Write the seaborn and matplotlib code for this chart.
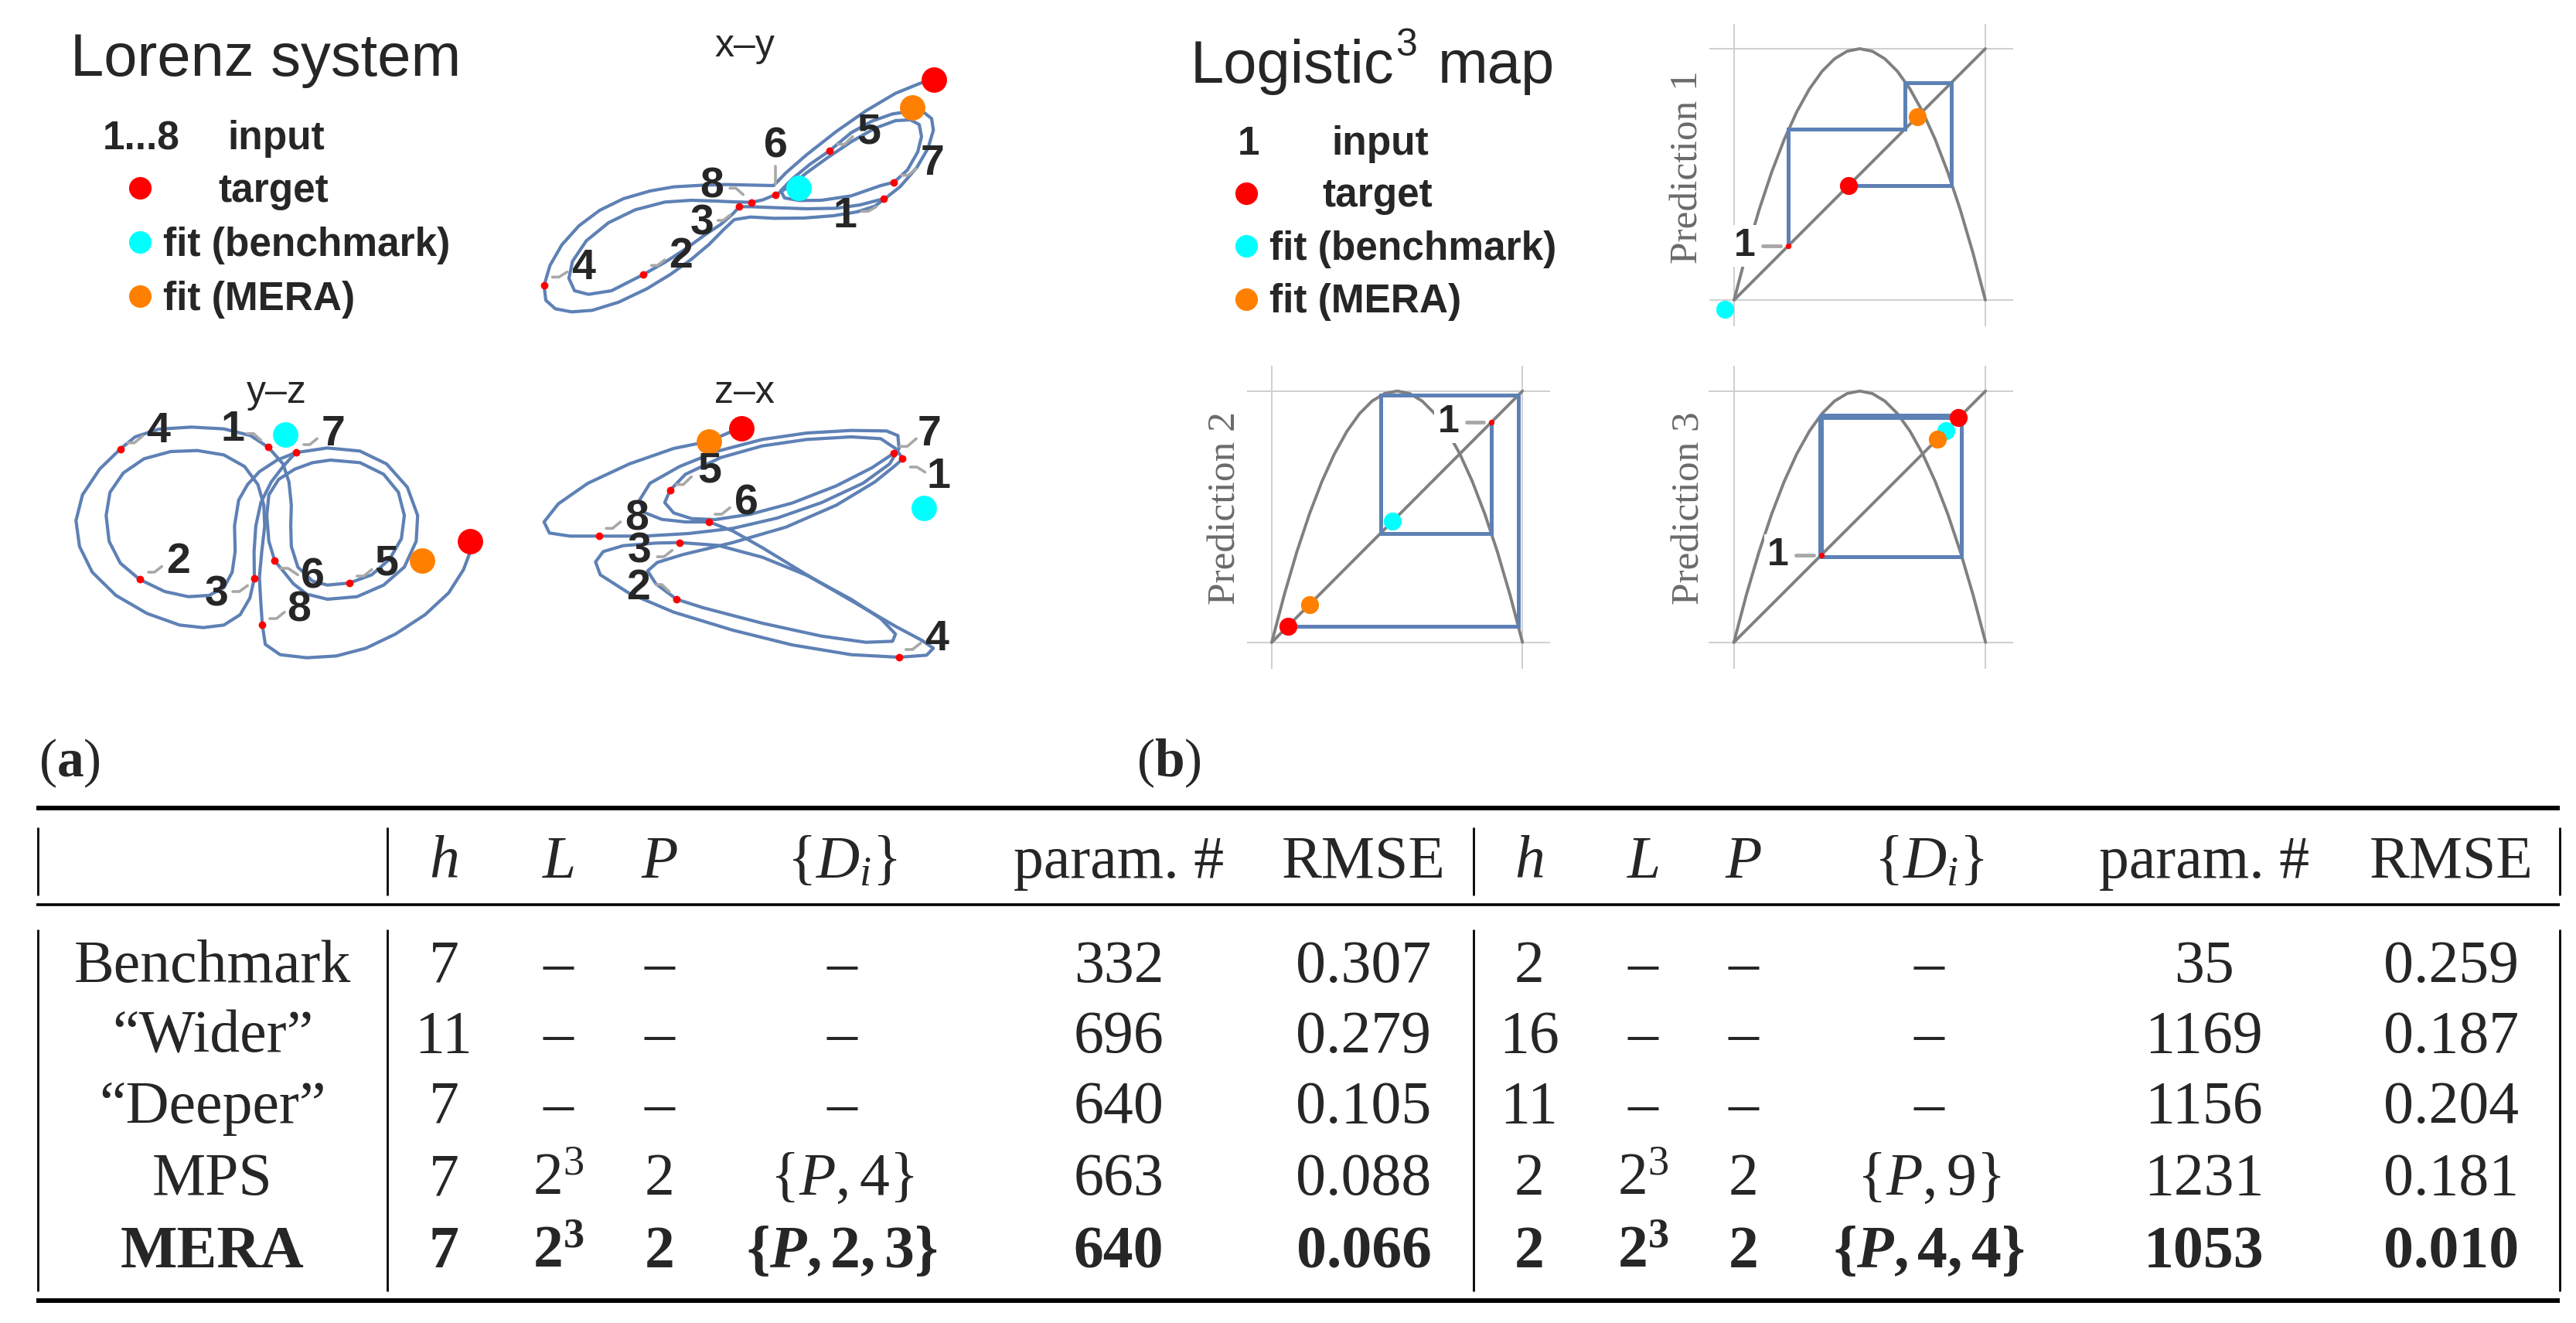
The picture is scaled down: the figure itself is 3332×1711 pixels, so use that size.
import numpy as np
import matplotlib
matplotlib.use("Agg")
import matplotlib.pyplot as plt
import seaborn as sns

sns.set_theme(style="white")
plt.rcParams['font.family'] = ['Liberation Sans', 'DejaVu Sans']
plt.rcParams['mathtext.fontset'] = 'custom'
plt.rcParams['mathtext.rm'] = 'Liberation Serif'
plt.rcParams['mathtext.it'] = 'Liberation Serif:italic'
plt.rcParams['mathtext.bf'] = 'Liberation Serif:bold'
try:
    plt.rcParams['mathtext.bfit'] = 'Liberation Serif:bold:italic'
except KeyError:
    pass

# ---------------- data: Lorenz projections ----------------
xy_strand_a = [(1340,140),(1250,182),(1150,250),(1050,330),(950,420),(880,490),(838,540),(760,538),(680,536),
               (590,539),(500,545),(420,561),(330,591),(250,636),(180,696),(122,770),(82,850),(62,928),(68,985),
               (100,1018),(155,1030),(225,1024),(315,992),(410,940),(490,884),(560,826),(620,768),(668,712),
               (705,672),(760,662),(840,667),(940,666),(1040,657),(1120,642),(1180,620),(1215,590),(1265,545),
               (1322,470),(1360,395),(1378,325),(1372,280),(1348,258),(1300,252),(1240,262),(1170,290),(1100,335),
               (1027,405),(960,458),(900,515),(862,560),(875,588),(925,598),(1000,597),(1100,580),(1200,540),
               (1245,527),(1290,480),(1325,410),(1338,350),(1330,303),(1300,285),(1250,288),(1180,318),(1100,370),
               (1020,432),(950,490),(890,545),(845,575)]
xy_strand_b = [(845,575),(800,596),(762,605),(700,603),(640,600),(560,597),(470,604),(370,634),(280,684),
               (205,754),(158,834),(146,900),(165,948),(212,962),(290,948),(398,885),(470,838),(540,786),
               (610,728),(660,690),(700,650),(722,622),(760,622),(850,626),(950,630),(1050,628),(1130,615),
               (1180,600),(1215,590)]
xy_inputs = [(1210,590),(398,885),(722,622),(62,928),(1027,405),(845,575),(1245,527),(762,605)]
xy_label_pos = [(1080,660),(525,815),(595,688),(195,862),(1160,335),(845,388),(1375,455),(630,545)]
xy_leaders = [((1135,640),(1185,622)),((425,850),(470,828)),((650,675),(690,655)),((90,895),(140,875)),
              ((1055,380),(1105,350)),((845,465),(845,535)),((1270,500),(1320,475)),((690,550),(735,575))]
xy_target, xy_mera, xy_bench = (1380,128), (1307,237), (922,550)

yz_strand_a = [(750,295),(690,250),(600,224),(490,217),(380,225),(300,255),(250,302),(180,380),(122,480),
               (100,580),(112,680),(155,780),(235,870),(340,940),(450,985),(530,995),(600,985),(655,945),
               (688,880),(703,803),(702,700),(708,600),(725,510),(760,430),(800,370),(843,316),(950,298),
               (1060,310),(1150,360),(1220,450),(1255,560),(1250,660),(1210,760),(1140,830),(1050,875),
               (950,885),(880,865),(835,825),(800,775),(772,736),(752,660),(745,560),(752,480),(785,420),
               (840,380),(900,355),(960,345),(1060,355),(1140,400),(1190,470),(1210,560),(1200,650),
               (1160,730),(1100,790),(1024,822),(950,830),(900,815),(850,760),(828,680),(826,600),(828,520),
               (820,430),(800,360),(750,295)]
yz_strand_b = [(843,316),(780,345),(720,390),(680,440),(650,500),(636,600),(638,700),(628,780),(600,840),
               (550,870),(480,875),(400,855),(315,808),(250,745),(212,660),(202,560),(215,470),(260,395),
               (330,340),(420,312),(510,308),(600,325),(670,370),(715,440),(735,520),(738,600),(728,700),
               (720,800),(725,900),(730,985),(740,1060),(790,1100),(880,1112),(980,1105),(1080,1075),
               (1180,1020),(1280,945),(1360,860),(1410,770),(1433,700)]
yz_inputs = [(750,295),(315,808),(703,803),(250,302),(1024,822),(772,736),(843,316),(730,985)]
yz_label_pos = [(630,228),(445,740),(575,870),(378,235),(1150,748),(900,800),(970,245),(855,928)]
yz_leaders = [((680,242),(725,268)),((345,780),(390,758)),((630,855),(680,832)),((275,278),(325,252)),
              ((1050,795),(1100,770)),((790,765),(850,790)),((870,285),(915,262)),((755,960),(805,935))]
yz_target, yz_mera, yz_bench = (1433,660), (1270,735), (808,245)

zx_strand_a = [(700,232),(620,272),(500,300),(350,360),(210,435),(110,515),(62,585),(80,628),(150,640),
               (248,640),(400,640),(550,630),(700,610),(850,570),(1000,510),(1140,435),(1230,360),(1262,300),
               (1258,250),(1220,232),(1100,230),(950,240),(800,265),(650,310),(520,370),(420,435),(385,500),
               (400,548),(460,575),(540,585),(620,585),(700,620),(800,685),(950,790),(1100,890),(1250,990),
               (1340,1045),(1378,1075),(1355,1102),(1262,1110),(1100,1100),(900,1062),(700,1005),(500,935),
               (350,862),(252,790),(236,740),(262,700),(330,677),(440,667),(520,665),(650,676),(800,722),
               (950,792),(1100,885),(1200,960),(1250,1020),(1240,1048),(1150,1052),(1000,1028),(800,978),
               (600,918),(510,885),(440,825),(412,775),(445,742),(530,712),(700,665),(880,605),(1050,520),
               (1180,430),(1245,370),(1275,340)]
zx_strand_b = [(1275,340),(1250,300),(1200,262),(1100,255),(950,265),(800,290),(660,335),(540,400),(488,462),
               (470,510),(500,550),(560,572),(640,576),(760,555),(900,512),(1050,445),(1170,375),(1245,318)]
zx_inputs = [(1273,340),(510,885),(520,665),(1262,1110),(488,462),(620,585),(1245,318),(248,640)]
zx_label_pos = [(1395,410),(380,842),(385,700),(1390,1040),(620,390),(745,515),(1365,245),(375,575)]
zx_leaders = [((1300,372),(1350,392)),((440,828),(485,855)),((445,720),(495,695)),((1285,1080),(1335,1055)),
              ((510,440),(560,410)),((640,555),(690,530)),((1265,292),(1320,262)),((272,610),(320,585))]
zx_target, zx_mera, zx_bench = (728,223), (620,272), (1347,532)

# ---------------- data: logistic map ----------------
logistic_x = [0, .05, .1, .15, .2, .25, .3, .35, .4, .45, .5, .55, .6, .65, .7, .75, .8, .85, .9, .95, 1]
logistic_y = [0, .19, .36, .51, .64, .75, .84, .91, .96, .99, 1, .99, .96, .91, .84, .75, .64, .51, .36, .19, 0]
pred1_orbit = [0.215, 0.68, 0.865, 0.455]
pred2_orbit = [0.876, 0.434, 0.985, 0.064]
pred3_orbit = [0.348, 0.903, 0.342, 0.893]
pred_mera = [0.73, 0.15, 0.809]
pred_bench = [-0.037, 0.481, 0.841]
pred_names = ["Prediction 1", "Prediction 2", "Prediction 3"]

# ---------------- data: table ----------------
table_header = ["", "$h$", "$L$", "$P$", r"$\{D_i\}$", "param. #", "RMSE",
                "$h$", "$L$", "$P$", r"$\{D_i\}$", "param. #", "RMSE"]
row_names = ["Benchmark", "\u201cWider\u201d", "\u201cDeeper\u201d", "MPS", "MERA"]
lorenz_h = ["7", "11", "7", "7", "7"]
lorenz_L = ["\u2013", "\u2013", "\u2013", "$2^3$", r"$\mathbf{2}^{\mathbf{3}}$"]
lorenz_P = ["\u2013", "\u2013", "\u2013", "2", "2"]
lorenz_D = ["\u2013", "\u2013", "\u2013", r"$\{P,4\}$", r"$\mathbf{\{}\mathbfit{P}\mathbf{,2,3\}}$"]
lorenz_params = ["332", "696", "640", "663", "640"]
lorenz_rmse = ["0.307", "0.279", "0.105", "0.088", "0.066"]
logi_h = ["2", "16", "11", "2", "2"]
logi_L = ["\u2013", "\u2013", "\u2013", "$2^3$", r"$\mathbf{2}^{\mathbf{3}}$"]
logi_P = ["\u2013", "\u2013", "\u2013", "2", "2"]
logi_D = ["\u2013", "\u2013", "\u2013", r"$\{P,9\}$", r"$\mathbf{\{}\mathbfit{P}\mathbf{,4,4\}}$"]
logi_params = ["35", "1169", "1156", "1231", "1053"]
logi_rmse = ["0.259", "0.187", "0.204", "0.181", "0.010"]

# ---------------- styling ----------------
BLUE = "#5E81B5"
RED = "#FF0000"
CYAN = "#00FFFF"
ORANGE = "#FF8000"
GRAY = "#808080"
GRID = "#CFCFCF"
LEAD = "#A8A8A8"
W, H = 3332, 1711

fig = plt.figure(figsize=(W / 100, H / 100), dpi=100)
fig.patch.set_facecolor("white")
canvas = fig.add_axes([0, 0, 1, 1])
canvas.set_xlim(0, W)
canvas.set_ylim(H, 0)
canvas.axis("off")


def px_axes(x0, y0, w, h):
    ax = fig.add_axes([x0 / W, 1 - (y0 + h) / H, w / W, h / H])
    ax.axis("off")
    ax.patch.set_alpha(0)
    return ax


def lorenz_panel(box, extent, strands, inputs, label_pos, leaders, target, mera, bench):
    ax = px_axes(*box)
    ax.set_xlim(0, extent[0])
    ax.set_ylim(extent[1], 0)
    for s in strands:
        arr = np.array(s, float)
        sns.lineplot(x=arr[:, 0], y=arr[:, 1], sort=False, estimator=None, color=BLUE,
                     linewidth=3.0, ax=ax, legend=False, zorder=2)
    for (a, b) in leaders:
        (x1, y1), (x2, y2) = a, b
        hx = x1 + 0.45 * (x2 - x1)
        ax.plot([x1, hx, x2], [y1, y1, y2], color=LEAD, lw=2.6, zorder=3,
                solid_capstyle="round", solid_joinstyle="round")
    arr = np.array(inputs, float)
    sns.scatterplot(x=arr[:, 0], y=arr[:, 1], color=RED, s=50, linewidth=0, ax=ax,
                    legend=False, zorder=4)
    for i, (lx, ly) in enumerate(label_pos):
        ax.text(lx, ly, str(i + 1), fontsize=40, fontweight="bold", ha="center",
                va="center", zorder=6, family="Liberation Sans")
    for pt, col in ((target, RED), (mera, ORANGE), (bench, CYAN)):
        sns.scatterplot(x=[pt[0]], y=[pt[1]], color=col, s=560, linewidth=0, ax=ax,
                        legend=False, zorder=5)
    return ax


lorenz_panel((680, 60, 600, 380), (1568, 1140), [xy_strand_a, xy_strand_b], xy_inputs,
             xy_label_pos, xy_leaders, xy_target, xy_mera, xy_bench)
lorenz_panel((60, 480, 600, 400), (1568, 1200), [yz_strand_a, yz_strand_b], yz_inputs,
             yz_label_pos, yz_leaders, yz_target, yz_mera, yz_bench)
lorenz_panel((680, 480, 600, 400), (1568, 1200), [zx_strand_a, zx_strand_b], zx_inputs,
             zx_label_pos, zx_leaders, zx_target, zx_mera, zx_bench)

for t, (tx, ty) in zip(["x\u2013y", "y\u2013z", "z\u2013x"], [(963, 60), (358, 508), (963, 508)]):
    canvas.text(tx, ty, t, fontsize=36, ha="center", va="center", family="Liberation Sans")


def pred_panel(x0px, y0px, ux, uy, orbit, mera, bench):
    xlim = (-0.1, 1.11)
    ylim = (-0.105, 1.10)
    left = x0px + xlim[0] * ux
    right = x0px + xlim[1] * ux
    top = y0px - ylim[1] * uy
    bottom = y0px - ylim[0] * uy
    ax = px_axes(left, top, right - left, bottom - top)
    ax.set_xlim(*xlim)
    ax.set_ylim(*ylim)
    for v in (0, 1):
        ax.axvline(v, color=GRID, lw=1.4, zorder=0)
        ax.axhline(v, color=GRID, lw=1.4, zorder=0)
    sns.lineplot(x=logistic_x, y=logistic_y, sort=False, estimator=None, color=GRAY,
                 linewidth=2.8, ax=ax, legend=False, zorder=1)
    sns.lineplot(x=[0, 1], y=[0, 1], sort=False, estimator=None, color=GRAY,
                 linewidth=2.8, ax=ax, legend=False, zorder=3)
    px, py = [orbit[0]], [orbit[0]]
    for a, b in zip(orbit[:-1], orbit[1:]):
        px += [a, b]
        py += [b, b]
    ax.plot(px, py, color=BLUE, lw=3.6, zorder=4, solid_joinstyle="miter")
    x0 = orbit[0]
    ax.text(x0 - 0.172, x0, "1", fontsize=36, fontweight="bold", ha="center", va="center",
            zorder=2, family="Liberation Sans",
            bbox=dict(facecolor="white", edgecolor="none", pad=3))
    ax.plot([x0 - 0.10, x0 - 0.03], [x0, x0], color=LEAD, lw=3.5, zorder=4)
    sns.scatterplot(x=[x0], y=[x0], color=RED, s=28, linewidth=0, ax=ax, legend=False, zorder=6)
    for val, col in ((bench, CYAN), (mera, ORANGE), (orbit[-1], RED)):
        sns.scatterplot(x=[val], y=[val], color=col, s=280, linewidth=0, ax=ax,
                        legend=False, zorder=7)
    return ax


pred_panel(2243, 388, 325, 325, pred1_orbit, pred_mera[0], pred_bench[0])
pred_panel(1645, 830.7, 324.3, 325, pred2_orbit, pred_mera[1], pred_bench[1])
pred_panel(2242.7, 830.7, 325.6, 325, pred3_orbit, pred_mera[2], pred_bench[2])
for name, (tx, ty) in zip(pred_names, [(2183, 216), (1585, 657), (2185, 657)]):
    canvas.text(tx, ty, name, rotation=90, fontsize=37, color="#6A6A6A", ha="center",
                va="center", family="Liberation Serif")

# ---------------- titles and legends ----------------
canvas.text(91, 98, "Lorenz system", fontsize=56, ha="left", va="baseline", family="Liberation Sans")
canvas.text(1540, 107, "Logistic", fontsize=56, ha="left", va="baseline", family="Liberation Sans")
canvas.text(1805, 72, "3", fontsize=36, ha="left", va="baseline", family="Liberation Sans")
canvas.text(1860, 107, "map", fontsize=56, ha="left", va="baseline", family="Liberation Sans")

leg_kw = dict(fontsize=37, fontweight="bold", ha="left", va="baseline", family="Liberation Sans")
canvas.text(133, 193, "1...8", **leg_kw)
canvas.text(294, 193, "input", **leg_kw)
canvas.text(282, 261, "target", **leg_kw)
canvas.text(211, 331, "fit (benchmark)", **leg_kw)
canvas.text(211, 401, "fit (MERA)", **leg_kw)
canvas.text(1601, 200, "1", **leg_kw)
canvas.text(1722, 200, "input", **leg_kw)
canvas.text(1710, 267, "target", **leg_kw)
canvas.text(1642, 336, "fit (benchmark)", **leg_kw)
canvas.text(1642, 404, "fit (MERA)", **leg_kw)
legend_dot_x = [181, 181, 181, 1612, 1612, 1612]
legend_dot_y = [243, 313, 383, 250, 318, 387]
legend_dot_c = [RED, CYAN, ORANGE, RED, CYAN, ORANGE]
for x, y, c in zip(legend_dot_x, legend_dot_y, legend_dot_c):
    sns.scatterplot(x=[x], y=[y], color=c, s=440, linewidth=0, ax=canvas, legend=False, zorder=5)

canvas.text(90, 987, r"$(\mathbf{a})$", fontsize=50, ha="center", va="center")
canvas.text(1512, 987, r"$(\mathbf{b})$", fontsize=50, ha="center", va="center")

# ---------------- table ----------------
col_x = [275, 574, 722, 853, 1089, 1447, 1764, 1978, 2125, 2255, 2495, 2851, 3171]
header_base = 1135
row_base = [1270, 1361, 1452, 1545, 1639]
tfs = 56
canvas.hlines(1045, 47, 3311, color="black", lw=4.3)
canvas.hlines(1170, 47, 3311, color="black", lw=2.6)
canvas.hlines(1682, 47, 3311, color="black", lw=4.3)
for vx in (49, 501, 1906, 3311):
    canvas.vlines(vx, 1070, 1158, color="black", lw=2.0)
    canvas.vlines(vx, 1202, 1670, color="black", lw=2.0)
for cx, txt in zip(col_x, table_header):
    if txt:
        canvas.text(cx, header_base, txt, fontsize=tfs, ha="center", va="baseline",
                    family="Liberation Serif")
for i, name in enumerate(row_names):
    cells = [name, lorenz_h[i], lorenz_L[i], lorenz_P[i], lorenz_D[i], lorenz_params[i], lorenz_rmse[i],
             logi_h[i], logi_L[i], logi_P[i], logi_D[i], logi_params[i], logi_rmse[i]]
    bold = (name == "MERA")
    for cx, txt in zip(col_x, cells):
        canvas.text(cx, row_base[i], txt, fontsize=tfs, ha="center", va="baseline",
                    family="Liberation Serif", fontweight="bold" if bold else "normal")

fig.savefig("out.png", dpi=100, facecolor="white")
